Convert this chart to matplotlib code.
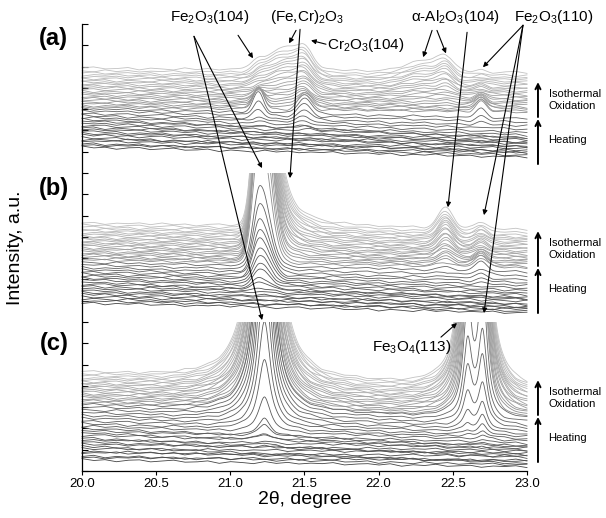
import numpy as np
import matplotlib
matplotlib.use("Agg")
import matplotlib.pyplot as plt
from matplotlib.patches import Rectangle

plt.rcParams['font.family'] = ['Liberation Sans', 'DejaVu Sans']
plt.rcParams['mathtext.fontset'] = 'custom'
plt.rcParams['mathtext.rm'] = 'Liberation Sans'
plt.rcParams['mathtext.it'] = 'Liberation Sans:italic'
plt.rcParams['mathtext.default'] = 'regular'

# ---------------- data (intensity in a.u. above each panel's base) ----------------
X_TICKS = [20.0, 20.5, 21.0, 21.5, 22.0, 22.5, 23.0]
PANEL_BASE = {'a': 14.0, 'b': 7.0, 'c': 0.0}

RIPPLE = [0.00, 0.05, -0.03, 0.06, -0.02, 0.03, -0.06, 0.02, 0.05, -0.04,
          0.01, 0.06, -0.03, -0.01, 0.05, -0.06, 0.03, 0.00, -0.05, 0.06,
          -0.02, 0.04, -0.03, 0.02, 0.00, 0.06, -0.04, 0.01, 0.04, -0.02,
          0.05, -0.06, 0.02, -0.01, 0.06, -0.03, 0.00, 0.04, -0.05, 0.02]

# panel (a)
A_HEAT_LEFT = [1.21, 1.30, 1.38, 1.50, 1.58, 1.66, 1.78, 1.85, 1.96, 2.05, 2.13, 2.24, 2.32, 2.42, 2.52, 2.60, 2.70, 2.80, 2.92, 3.02]
A_HEAT_RIGHT = [0.74, 0.95, 0.82, 1.05, 1.15, 0.98, 1.25, 1.38, 1.22, 1.45, 1.55, 1.40, 1.66, 1.78, 1.62, 1.90, 2.05, 2.20, 2.38, 2.55]
A_HEAT_FE104 = [0] * 14 + [0.05, 0.1, 0.2, 0.4, 0.7, 1.0]
A_HEAT_HUMP = [0] * 20
A_HEAT_CR = [0] * 12 + [0.08, 0.12, 0.15, 0.2, 0.3, 0.45, 0.6, 0.75]
A_HEAT_AL1 = [0] * 20
A_HEAT_AL2 = [0] * 20
A_HEAT_FE110 = [0] * 16 + [0.08, 0.15, 0.25, 0.4]

A_ISO_LEFT = [3.09, 3.16, 3.25, 3.33, 3.42, 3.50, 3.58, 3.67, 3.75, 3.84, 3.92, 4.01, 4.09, 4.18, 4.26, 4.35, 4.44, 4.52, 4.61, 4.70, 4.80, 4.93]
A_ISO_RIGHT = [2.85, 2.92, 3.02, 3.10, 3.18, 3.27, 3.35, 3.43, 3.52, 3.60, 3.68, 3.77, 3.85, 3.94, 4.02, 4.11, 4.20, 4.29, 4.38, 4.47, 4.58, 4.72]
A_ISO_FE104 = [1.05, 0.95, 0.85, 0.7, 0.55, 0.42, 0.3, 0.22, 0.16, 0.12, 0.1, 0.1, 0.1, 0.1, 0.12, 0.12, 0.14, 0.15, 0.16, 0.18, 0.2, 0.22]
A_ISO_HUMP = [0.0, 0.05, 0.1, 0.16, 0.22, 0.28, 0.34, 0.4, 0.46, 0.52, 0.58, 0.64, 0.69, 0.74, 0.79, 0.84, 0.88, 0.92, 0.96, 1.0, 1.04, 1.08]
A_ISO_CR = [0.7, 0.62, 0.55, 0.48, 0.42, 0.38, 0.36, 0.36, 0.36, 0.37, 0.38, 0.39, 0.4, 0.41, 0.42, 0.43, 0.44, 0.45, 0.46, 0.47, 0.48, 0.5]
A_ISO_AL1 = [0, 0, 0, 0, 0.02, 0.05, 0.08, 0.12, 0.15, 0.18, 0.22, 0.25, 0.28, 0.31, 0.34, 0.37, 0.4, 0.42, 0.45, 0.47, 0.5, 0.52]
A_ISO_AL2 = [0, 0, 0, 0, 0.03, 0.06, 0.1, 0.14, 0.18, 0.22, 0.26, 0.3, 0.33, 0.36, 0.39, 0.42, 0.45, 0.47, 0.5, 0.52, 0.55, 0.58]
A_ISO_FE110 = [0.5, 0.48, 0.45, 0.4, 0.36, 0.32, 0.28, 0.25, 0.22, 0.2, 0.18, 0.16, 0.15, 0.14, 0.13, 0.12, 0.12, 0.11, 0.1, 0.1, 0.1, 0.1]

# panel (b)
B_HEAT_LEFT = [0.89, 0.98, 1.10, 1.18, 1.30, 1.38, 1.48, 1.58, 1.68, 1.78, 1.86, 1.98, 2.06, 2.16, 2.26, 2.36, 2.46, 2.56, 2.68, 2.80]
B_HEAT_RIGHT = [0.42, 0.60, 0.50, 0.72, 0.66, 0.85, 0.80, 0.98, 1.05, 1.15, 1.10, 1.28, 1.36, 1.48, 1.58, 1.70, 1.84, 1.98, 2.16, 2.36]
B_HEAT_FE104 = [0, 0, 0, 0, 0, 0.05, 0.05, 0.1, 0.15, 0.35, 0.55, 0.75, 0.95, 1.2, 1.5, 1.85, 2.15, 2.55, 3.1, 3.8]
B_HEAT_FECR = [0] * 20
B_HEAT_AL2 = [0] * 15 + [0.04, 0.06, 0.08, 0.1, 0.12]
B_HEAT_FE110 = [0] * 14 + [0.05, 0.1, 0.15, 0.2, 0.3, 0.4]

B_ISO_LEFT = [2.91, 2.99, 3.07, 3.15, 3.23, 3.31, 3.40, 3.48, 3.56, 3.64, 3.72, 3.80, 3.88, 3.96, 4.04, 4.12, 4.20, 4.28, 4.36, 4.45, 4.55, 4.65]
B_ISO_RIGHT = [2.54, 2.62, 2.70, 2.78, 2.86, 2.94, 3.02, 3.10, 3.18, 3.26, 3.34, 3.42, 3.50, 3.58, 3.66, 3.74, 3.82, 3.90, 3.98, 4.06, 4.18, 4.32]
B_ISO_FE104 = [6.0, 7.0, 7.5] + [8.0] * 19
B_ISO_FECR = [0.0, 0.4, 1.0, 1.5, 2.1, 2.5, 3.0, 3.5, 3.8, 4.3, 4.6, 5.1, 5.4, 5.9, 6.2, 6.7, 7.0, 7.4, 7.9, 8.2, 8.6, 9.0]
B_ISO_AL2 = [0.2, 0.25, 0.3, 0.35, 0.4, 0.45, 0.5, 0.54, 0.58, 0.62, 0.66, 0.7, 0.73, 0.76, 0.79, 0.82, 0.85, 0.87, 0.89, 0.91, 0.93, 0.95]
B_ISO_FE110 = [0.45, 0.42, 0.4, 0.37, 0.35, 0.33, 0.32, 0.31, 0.3, 0.3, 0.3, 0.3, 0.3, 0.3, 0.31, 0.31, 0.32, 0.32, 0.33, 0.33, 0.34, 0.35]

# panel (c)
C_HEAT_LEFT = [0.52, 0.62, 0.70, 0.85, 0.92, 1.05, 1.15, 1.25, 1.35, 1.45, 1.55, 1.68, 1.78, 1.88, 2.00, 2.10, 2.22, 2.35, 2.48, 2.60, 2.72, 2.85, 2.98, 3.10]
C_HEAT_RIGHT = [0.19, 0.50, 0.28, 0.70, 0.45, 0.85, 0.35, 0.95, 0.75, 1.08, 0.62, 1.18, 0.98, 1.30, 1.12, 1.42, 1.50, 1.60, 1.72, 1.85, 1.98, 2.10, 2.25, 2.38]
C_HEAT_FE104 = [0] * 8 + [0.05, 0.1, 0.15, 0.25, 0.35, 0.5, 0.8, 1.6, 3.3, 5, 7, 9, 11, 13, 15, 17]
C_HEAT_FE3O4 = [0] * 16 + [0.1, 0.2, 0.4, 0.8, 1.5, 2.5, 3.5, 5]
C_HEAT_FE110 = [0] * 12 + [0.05, 0.1, 0.15, 0.2, 0.35, 0.5, 0.8, 1.2, 2, 3, 4, 6]

C_ISO_LEFT = [3.19, 3.27, 3.35, 3.43, 3.51, 3.59, 3.67, 3.75, 3.83, 3.91, 3.99, 4.07, 4.15, 4.23, 4.31, 4.40, 4.50, 4.60]
C_ISO_RIGHT = [2.39, 2.47, 2.55, 2.63, 2.72, 2.80, 2.88, 2.96, 3.04, 3.12, 3.20, 3.28, 3.36, 3.44, 3.53, 3.62, 3.71, 3.80]
C_ISO_FE104 = [17, 19, 20, 22, 23, 24, 26, 27, 28, 29, 31, 32, 33, 34, 35, 36, 37, 38]
C_ISO_FE3O4 = [6, 7, 8, 9, 10, 11, 12, 13, 14, 15, 15, 16, 16, 17, 17, 18, 18, 19]
C_ISO_FE110 = [8, 9, 10, 11, 12, 13, 14, 15, 15, 16, 16, 17, 17, 18, 18, 19, 19, 20]


# ---------------- peak shapes ----------------
def gauss(x, c, s):
    return np.exp(-0.5 * ((x - c) / s) ** 2)


def split_gauss(x, c, sl, sr):
    return np.where(x < c, gauss(x, c, sl), gauss(x, c, sr))


def lor(x, c, w):
    return 1.0 / (1.0 + ((x - c) / w) ** 2)


def split_lor(x, c, wl, wr):
    return np.where(x < c, lor(x, c, wl), lor(x, c, wr))


x = np.linspace(20.0, 23.0, 1201)
rip_x = np.linspace(20.0, 23.0, len(RIPPLE))

SHAPES_A = [lambda t: gauss(t, 21.19, 0.035), lambda t: gauss(t, 21.38, 0.13),
            lambda t: gauss(t, 21.50, 0.045), lambda t: gauss(t, 22.30, 0.12),
            lambda t: gauss(t, 22.45, 0.05), lambda t: gauss(t, 22.69, 0.035)]
SHAPES_B = [lambda t: split_gauss(t, 21.20, 0.045, 0.065), lambda t: split_lor(t, 21.24, 0.012, 0.075),
            lambda t: gauss(t, 22.45, 0.05), lambda t: gauss(t, 22.69, 0.04)]
SHAPES_C = [lambda t: lor(t, 21.23, 0.05), lambda t: lor(t, 22.60, 0.035),
            lambda t: lor(t, 22.70, 0.035)]


def curve(left, right, amps, shapes, k):
    y = left + (right - left) * (x - 20.0) / 3.0
    y = y + np.interp(x, rip_x, np.roll(RIPPLE, 7 * k + 3))
    for a, f in zip(amps, shapes):
        if a:
            y = y + a * f(x)
    return y


fig = plt.figure(figsize=(6.06, 5.18), dpi=100)
ax = fig.add_axes([82 / 606, 1 - 471 / 518, 445 / 606, 447 / 518])
ax.set_xlim(20.0, 23.0)
ax.set_ylim(0, 21)

panels = [
    ('a', SHAPES_A,
     (A_HEAT_LEFT, A_HEAT_RIGHT, [A_HEAT_FE104, A_HEAT_HUMP, A_HEAT_CR, A_HEAT_AL1, A_HEAT_AL2, A_HEAT_FE110]),
     (A_ISO_LEFT, A_ISO_RIGHT, [A_ISO_FE104, A_ISO_HUMP, A_ISO_CR, A_ISO_AL1, A_ISO_AL2, A_ISO_FE110])),
    ('b', SHAPES_B,
     (B_HEAT_LEFT, B_HEAT_RIGHT, [B_HEAT_FE104, B_HEAT_FECR, B_HEAT_AL2, B_HEAT_FE110]),
     (B_ISO_LEFT, B_ISO_RIGHT, [B_ISO_FE104, B_ISO_FECR, B_ISO_AL2, B_ISO_FE110])),
    ('c', SHAPES_C,
     (C_HEAT_LEFT, C_HEAT_RIGHT, [C_HEAT_FE104, C_HEAT_FE3O4, C_HEAT_FE110]),
     (C_ISO_LEFT, C_ISO_RIGHT, [C_ISO_FE104, C_ISO_FE3O4, C_ISO_FE110])),
]

k = 0
for name, shapes, heat, iso in panels:
    b0 = PANEL_BASE[name]
    clip = Rectangle((19.0, -5.0), 5.0, b0 + 7.0 + 5.0, transform=ax.transData)
    # isothermal (light) first, heating (dark) on top
    left, right, amps = iso
    n = len(left)
    greys = np.linspace(0.55, 0.76, n)
    for i in range(n):
        y = curve(left[i], right[i], [a[i] for a in amps], shapes, k)
        k += 1
        ln, = ax.plot(x, b0 + y, color=str(greys[i]), lw=0.6)
        ln.set_clip_path(clip)
    left, right, amps = heat
    n = len(left)
    greys = np.linspace(0.27, 0.40, n)
    for i in range(n):
        y = curve(left[i], right[i], [a[i] for a in amps], shapes, k)
        k += 1
        ln, = ax.plot(x, b0 + y, color=str(greys[i]), lw=0.6)
        ln.set_clip_path(clip)

# axes styling
for s in ['top', 'right']:
    ax.spines[s].set_visible(False)
for s in ['left', 'bottom']:
    ax.spines[s].set_linewidth(0.9)
ax.set_yticks(range(0, 22))
ax.tick_params(axis='y', direction='in', length=4, width=0.8, labelleft=False)
ax.set_xticks(X_TICKS)
ax.set_xticklabels([f"{v:.1f}" for v in X_TICKS])
ax.tick_params(axis='x', direction='out', length=3, width=0.8, labelsize=9.5, pad=2)
ax.set_xlabel("2θ, degree", fontsize=14)
ax.xaxis.set_label_coords(0.5, -(500 - 471) / 447)
ax.xaxis.label.set_va('center')
ax.set_ylabel("Intensity, a.u.", fontsize=14)
ax.yaxis.set_label_coords(-(82 - 16) / 445, 0.5)
ax.yaxis.label.set_va('center')

# panel labels
for name, yy in [('a', 20.3), ('b', 13.28), ('c', 6.0)]:
    ax.text(19.81, yy, f"({name})", fontsize=17, fontweight='bold', ha='center', va='center',
            clip_on=False)

# heating / isothermal arrows
for name in ['a', 'b', 'c']:
    b0 = PANEL_BASE[name]
    ax.annotate('', xy=(23.074, b0 + 4.27), xytext=(23.074, b0 + 2.63), annotation_clip=False,
                arrowprops=dict(arrowstyle='->', lw=1.4, color='black', shrinkA=0, shrinkB=0,
                                mutation_scale=9))
    ax.annotate('', xy=(23.074, b0 + 2.54), xytext=(23.074, b0 + 0.42), annotation_clip=False,
                arrowprops=dict(arrowstyle='->', lw=1.4, color='black', shrinkA=0, shrinkB=0,
                                mutation_scale=9))
    ax.text(23.145, b0 + 3.43, "Isothermal\nOxidation", fontsize=8, ha='left', va='center',
            linespacing=1.25, clip_on=False)
    ax.text(23.145, b0 + 1.55, "Heating", fontsize=8, ha='left', va='center', clip_on=False)

# phase labels and pointers
AP = dict(arrowstyle='-|>', lw=0.8, color='black', shrinkA=0, shrinkB=0, mutation_scale=7)
labels = [
    (20.863, 21.31, "Fe$_2$O$_3$(104)"),
    (21.517, 21.31, "(Fe,Cr)$_2$O$_3$"),
    (22.515, 21.31, "α-Al$_2$O$_3$(104)"),
    (23.18, 21.31, "Fe$_2$O$_3$(110)"),
]
for lx, ly, s in labels:
    ax.text(lx, ly, s, fontsize=11, ha='center', va='center', clip_on=False)
ax.text(21.652, 20.0, "Cr$_2$O$_3$(104)", fontsize=11, ha='left', va='center', clip_on=False)
ax.text(22.225, 5.82, "Fe$_3$O$_4$(113)", fontsize=11, ha='center', va='center', clip_on=False)

arrows = [
    ((21.052, 20.47), (21.153, 19.39)),
    ((20.755, 20.42), (21.214, 14.23)),
    ((20.755, 20.42), (21.214, 7.09)),
    ((21.443, 20.70), (21.396, 20.09)),
    ((21.470, 20.75), (21.402, 13.76)),
    ((21.645, 20.05), (21.544, 20.23)),
    ((22.360, 20.70), (22.300, 19.44)),
    ((22.393, 20.70), (22.454, 19.62)),
    ((22.596, 20.61), (22.467, 12.39)),
    ((22.973, 20.94), (22.703, 18.97)),
    ((22.973, 20.94), (22.710, 12.02)),
    ((22.973, 20.94), (22.710, 7.42)),
    ((22.420, 6.29), (22.528, 6.95)),
]
for start, tip in arrows:
    ax.annotate('', xy=tip, xytext=start, annotation_clip=False, arrowprops=AP)

fig.savefig("out.png", dpi=100)
